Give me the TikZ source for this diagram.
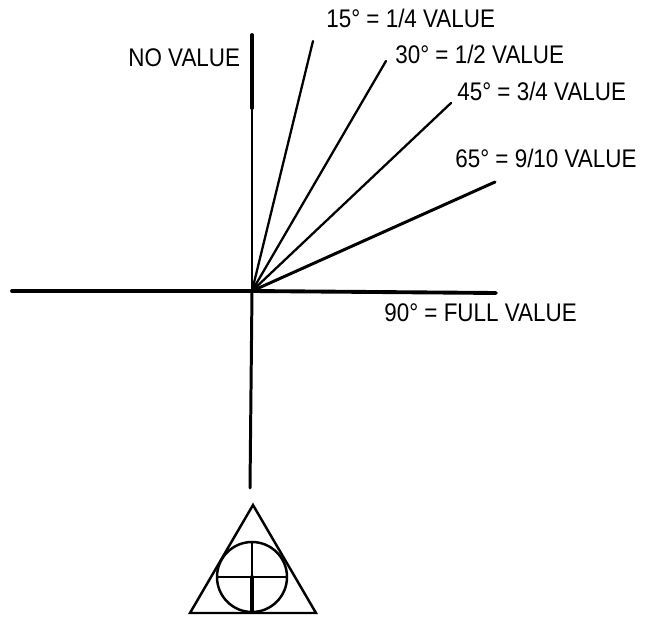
\documentclass[tikz,border=0pt]{standalone}
\usepackage{fontspec}
\setmainfont[FakeStretch=0.88]{Liberation Sans}
\tikzset{
  axisline/.style={line width=1.7pt},
  heavyline/.style={line width=2.2pt},
  rayline/.style={line width=1.3pt},
  symbolline/.style={line width=1.4pt},
  vallabel/.style={inner sep=0pt, font=\fontsize{14.5}{16}\selectfont}
}
\begin{document}
\begin{tikzpicture}[x=0.02cm, y=-0.02cm, line cap=round]
  \useasboundingbox (0,0) rectangle (649,618);

  % Axes and rays
  \coordinate (O) at (252, 291);
  \coordinate (Top) at (252, 35);
  \coordinate (TopEnd) at (252, 108);
  \coordinate (Left) at (12, 291);
  \coordinate (Right) at (496, 293);
  \coordinate (Bottom) at (250, 488);
  \coordinate (R15) at (313, 41);
  \coordinate (R30) at (386, 61);
  \coordinate (R45) at (451, 103);
  \coordinate (R65) at (495, 182);

  \draw[heavyline] (Top) -- (TopEnd);
  \draw[axisline] (TopEnd) -- (O);
  \draw[heavyline] (Left) -- (O);
  \draw[heavyline] (O) -- (Right);
  \draw[axisline] (O) -- (Bottom);
  \draw[rayline] (O) -- (R15);
  \draw[rayline] (O) -- (R30);
  \draw[rayline] (O) -- (R45);
  \draw[axisline] (O) -- (R65);

  \node[vallabel, right] (novalue) at (128, 58) {NO VALUE};
  \node[vallabel, right] (val15) at (326, 18) {15° = 1/4 VALUE};
  \node[vallabel, right] (val30) at (395, 54) {30° = 1/2 VALUE};
  \node[vallabel, right] (val45) at (457, 91) {45° = 3/4 VALUE};
  \node[vallabel, right] (val65) at (455, 158) {65° = 9/10 VALUE};
  \node[vallabel, right] (val90) at (384, 313) {90° = FULL VALUE};

  % Triangle symbol
  \coordinate (TA) at (253, 505);
  \coordinate (TB) at (190, 613);
  \coordinate (TC) at (316, 613);
  \coordinate (CC) at (252, 577);
  \coordinate (CN) at (252, 542);
  \coordinate (CS) at (252, 612);
  \coordinate (CW) at (217, 577);
  \coordinate (CE) at (287, 577);

  \draw[symbolline] (TA) -- (TB) -- (TC) -- cycle;
  \draw[symbolline] (CC) circle (35);
  \draw[symbolline] (CN) -- (CC);
  \draw[heavyline] (CC) -- (CS);
  \draw[symbolline] (CW) -- (CE);
\end{tikzpicture}
\end{document}
